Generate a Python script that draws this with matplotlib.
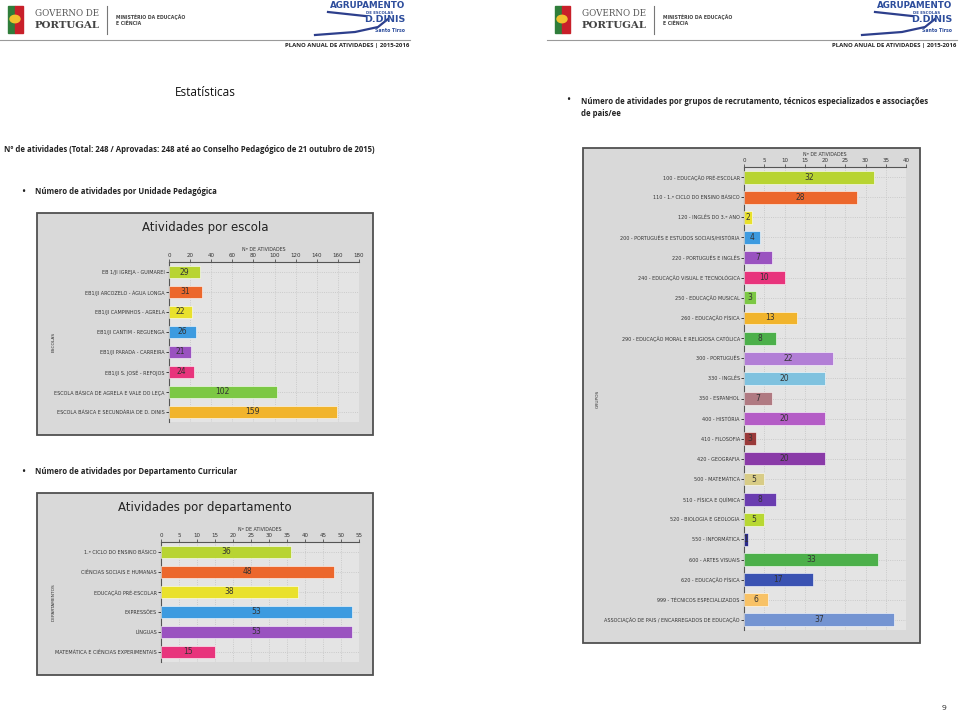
import matplotlib
matplotlib.use("Agg")
import matplotlib.pyplot as plt
from matplotlib.patches import Rectangle, Circle
from matplotlib.lines import Line2D

W, H = 960, 713

# ---- data -------------------------------------------------------------
escolas = ["EB 1/JI IGREJA - GUIMAREI", "EB1/JI ARCOZELO - ÁGUA LONGA",
           "EB1/JI CAMPINHOS - AGRELA", "EB1/JI CANTIM - REGUENGA",
           "EB1/JI PARADA - CARREIRA", "EB1/JI S. JOSÉ - REFOJOS",
           "ESCOLA BÁSICA DE AGRELA E VALE DO LEÇA",
           "ESCOLA BÁSICA E SECUNDÁRIA DE D. DINIS"]
escolas_val = [29, 31, 22, 26, 21, 24, 102, 159]
escolas_cor = ["#b8d432", "#ec672c", "#e9e12c", "#3d9be0", "#9a52c0",
               "#e8347c", "#7cc844", "#f1b42c"]

deptos = ["1.º CICLO DO ENSINO BÁSICO", "CIÊNCIAS SOCIAIS E HUMANAS",
          "EDUCAÇÃO PRÉ-ESCOLAR", "EXPRESSÕES", "LÍNGUAS",
          "MATEMÁTICA E CIÊNCIAS EXPERIMENTAIS"]
deptos_val = [36, 48, 38, 53, 53, 15]
deptos_cor = ["#b8d432", "#ec672c", "#e9e12c", "#3d9be0", "#9a52c0", "#e8347c"]

grupos = ["100 - EDUCAÇÃO PRÉ-ESCOLAR", "110 - 1.º CICLO DO ENSINO BÁSICO",
          "120 - INGLÊS DO 3.º ANO", "200 - PORTUGUÊS E ESTUDOS SOCIAIS/HISTÓRIA",
          "220 - PORTUGUÊS E INGLÊS", "240 - EDUCAÇÃO VISUAL E TECNOLÓGICA",
          "250 - EDUCAÇÃO MUSICAL", "260 - EDUCAÇÃO FÍSICA",
          "290 - EDUCAÇÃO MORAL E RELIGIOSA CATÓLICA", "300 - PORTUGUÊS",
          "330 - INGLÊS", "350 - ESPANHOL", "400 - HISTÓRIA", "410 - FILOSOFIA",
          "420 - GEOGRAFIA", "500 - MATEMÁTICA", "510 - FÍSICA E QUÍMICA",
          "520 - BIOLOGIA E GEOLOGIA", "550 - INFORMÁTICA", "600 - ARTES VISUAIS",
          "620 - EDUCAÇÃO FÍSICA", "999 - TÉCNICOS ESPECIALIZADOS",
          "ASSOCIAÇÃO DE PAIS / ENCARREGADOS DE EDUCAÇÃO"]
grupos_val = [32, 28, 2, 4, 7, 10, 3, 13, 8, 22, 20, 7, 20, 3, 20, 5, 8, 5,
              1, 33, 17, 6, 37]
grupos_cor = ["#b8d432", "#ec672c", "#e9e12c", "#3d9be0", "#9a52c0", "#e8347c",
              "#7cc844", "#f1b42c", "#4cb04a", "#b27ed6", "#7fc2df", "#b07a82",
              "#b45cc6", "#9a3a3a", "#8a3aa8", "#d8cc86", "#6a3cb0", "#b8d832",
              "#2a2a8a", "#4cb04a", "#3a52b2", "#f8c266", "#7494d2"]


def fx(x):
    return x / W


def fy(y):
    return 1 - y / H


fig = plt.figure(figsize=(W / 100, H / 100), dpi=100)
fig.patch.set_facecolor("white")
doc_font = ["Open Sans", "DejaVu Sans"]


def header(dx):
    # emblem
    fig.patches.append(Rectangle((fx(8 + dx), fy(33)), 7 / W, 27 / H,
                                 transform=fig.transFigure, color="#2f7d3a"))
    fig.patches.append(Rectangle((fx(15 + dx), fy(33)), 8 / W, 27 / H,
                                 transform=fig.transFigure, color="#c8202a"))
    fig.patches.append(Circle((fx(15 + dx), fy(19)), 5 / W,
                              transform=fig.transFigure, color="#f2c12e"))
    fig.text(fx(35 + dx), fy(14), "GOVERNO DE", family="DejaVu Serif",
             fontsize=6.3, color="#555555", va="center")
    fig.text(fx(35 + dx), fy(25), "PORTUGAL", family="DejaVu Serif",
             fontsize=7.4, weight="bold", color="#444444", va="center")
    fig.add_artist(Line2D([fx(107 + dx)] * 2, [fy(6), fy(34)],
                          color="#777777", lw=0.8))
    fig.text(fx(116 + dx), fy(17), "MINISTÉRIO DA EDUCAÇÃO", fontsize=3.3,
             weight="bold", color="#444444", va="center")
    fig.text(fx(116 + dx), fy(23), "E CIÊNCIA", fontsize=3.3,
             weight="bold", color="#444444", va="center")
    fig.add_artist(Line2D([fx(315 + dx), fx(355 + dx), fx(378 + dx), fx(388 + dx)],
                          [fy(35), fy(32), fy(27), fy(19)],
                          color="#2d3f8c", lw=1.6))
    fig.add_artist(Line2D([fx(328 + dx), fx(365 + dx)], [fy(12), fy(16)],
                          color="#2d3f8c", lw=1.6))
    fig.text(fx(405 + dx), fy(6), "AGRUPAMENTO", fontsize=6.3, weight="bold",
             color="#2d4d9c", va="center", ha="right")
    fig.text(fx(393 + dx), fy(12.5), "DE ESCOLAS", fontsize=2.8, weight="bold",
             color="#2d4d9c", va="center", ha="right")
    fig.text(fx(405 + dx), fy(19.5), "D.DINIS", fontsize=6.8, weight="bold",
             color="#2d4d9c", va="center", ha="right")
    fig.text(fx(405 + dx), fy(30), "Santo Tirso", fontsize=3.3, weight="bold",
             color="#2d4d9c", va="center", ha="right")
    fig.add_artist(Line2D([fx(dx), fx(410 + dx)], [fy(40), fy(40)],
                          color="#9a9a9a", lw=0.8))
    fig.text(fx(409 + dx), fy(45), "PLANO ANUAL DE ATIVIDADES | 2015-2016",
             family=doc_font, fontsize=4.3, weight="bold", color="#222222",
             va="center", ha="right")


header(0)
header(547)

# ---- document text --------------------------------------------------
fig.text(fx(205), fy(92), "Estatísticas", family=doc_font, fontsize=8.5,
         color="#111111", ha="center", va="center")
fig.text(fx(4), fy(150), "Nº de atividades (Total: 248 / Aprovadas: 248 até ao "
         "Conselho Pedagógico de 21 outubro de 2015)", family=doc_font,
         fontsize=5.6, weight="bold", color="#222222", va="center")
for xb, xt, yt, txt in [(21, 35, 192, "Número de atividades por Unidade Pedagógica"),
                        (21, 35, 472, "Número de atividades por Departamento Curricular"),
                        (566, 581, 101, "Número de atividades por grupos de recrutamento, "
                         "técnicos especializados e associações")]:
    fig.text(fx(xb), fy(yt), "•", family=doc_font, fontsize=8, color="#222222",
             va="center")
    fig.text(fx(xt), fy(yt), txt, family=doc_font, fontsize=5.6, weight="bold",
             color="#222222", va="center")
fig.text(fx(581), fy(114), "de pais/ee", family=doc_font, fontsize=5.6,
         weight="bold", color="#222222", va="center")
fig.text(fx(944), fy(709), "9", family=doc_font, fontsize=6, color="#222222",
         va="center", ha="center")


# ---- charts --------------------------------------------------------------
def panel(x0, y0, x1, y1):
    fig.patches.append(Rectangle((fx(x0), fy(y1)), (x1 - x0) / W, (y1 - y0) / H,
                                 transform=fig.transFigure, facecolor="#d9d9d9",
                                 edgecolor="#505050", lw=1.3, zorder=-1))


def chart(box, labels, vals, colors, xmax, step, ylab, ylab_x, title=None,
          title_y=None, panel_box=None):
    panel(*panel_box)
    left, top, right, bottom = box
    ax = fig.add_axes([fx(left), fy(bottom), (right - left) / W, (bottom - top) / H])
    ax.set_facecolor("#e4e4e4")
    pos = list(range(len(vals)))
    bars = ax.barh(pos, vals, height=0.64, color=colors, edgecolor="white",
                   linewidth=0.4, zorder=3)
    ax.bar_label(bars, labels=[str(v) for v in vals], label_type="center",
                 fontsize=5.5, color="#333333", zorder=4)
    ax.set_ylim(len(vals) - 0.5, -0.5)
    ax.set_xlim(0, xmax)
    ax.set_yticks(pos)
    ax.set_yticklabels(labels, fontsize=3.5, color="#333333")
    ax.set_xticks(range(0, xmax + 1, step))
    ax.xaxis.tick_top()
    ax.xaxis.set_label_position("top")
    ax.tick_params(axis="x", labelsize=4, colors="#333333", length=2, width=0.5,
                   pad=1)
    ax.tick_params(axis="y", length=2, width=0.5, pad=1)
    ax.set_xlabel("Nº DE ATIVIDADES", fontsize=3.4, color="#333333", labelpad=1)
    for s in ["right", "bottom"]:
        ax.spines[s].set_visible(False)
    for s in ["left", "top"]:
        ax.spines[s].set_color("#555555")
        ax.spines[s].set_linewidth(0.8)
    ax.grid(True, color="#c2c2c2", linestyle=":", linewidth=0.6, zorder=0)
    ax.set_axisbelow(True)
    fig.text(fx(ylab_x), fy((top + bottom) / 2), ylab, rotation=90, fontsize=3.2,
             color="#333333", ha="center", va="center")
    if title:
        fig.text(fx((panel_box[0] + panel_box[2]) / 2), fy(title_y), title,
                 fontsize=8.5, color="#222222", ha="center", va="center")
    return ax


chart((169, 262, 359, 422), escolas, escolas_val, escolas_cor, 180, 20,
      "ESCOLAS", 54, "Atividades por escola", 227, (37, 213, 373, 435))
chart((161, 542, 359, 662), deptos, deptos_val, deptos_cor, 55, 5,
      "DEPARTAMENTOS", 54, "Atividades por departamento", 507, (37, 493, 373, 675))
chart((744, 167, 906, 630), grupos, grupos_val, grupos_cor, 40, 5,
      "GRUPOS", 598, panel_box=(583, 148, 920, 643))

fig.savefig("out.png", dpi=100)
